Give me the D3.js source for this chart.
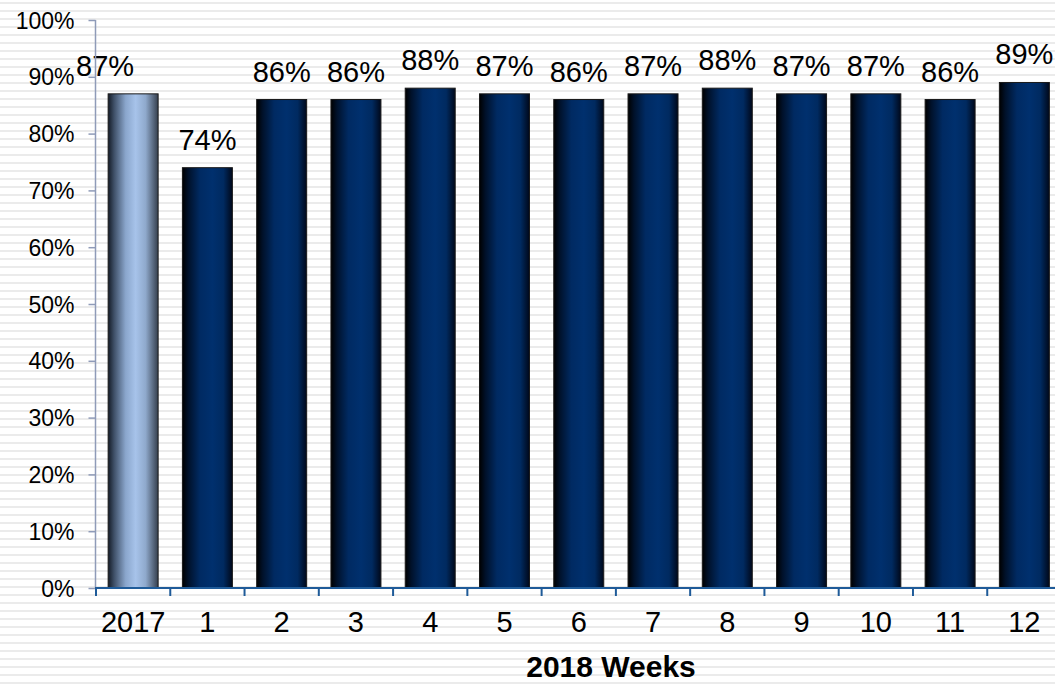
<!DOCTYPE html>
<html>
<head>
<meta charset="utf-8">
<script src="https://cdn.jsdelivr.net/npm/d3@7"></script>
<style>
  html, body { margin: 0; padding: 0; background: #fff; }
  svg { display: block; }
  text { font-family: Arial, "Liberation Sans", sans-serif; fill: #000; }
</style>
</head>
<body>
<svg id="chart" width="1055" height="684"></svg>
<script>
// Weekly rates: the 2017 baseline followed by the 2018 weeks
const categories = ["2017", "1", "2", "3", "4", "5", "6", "7", "8", "9", "10", "11", "12"];
const values = [0.87, 0.74, 0.86, 0.86, 0.88, 0.87, 0.86, 0.87, 0.88, 0.87, 0.87, 0.86, 0.89];
const yTicks = [0, 0.1, 0.2, 0.3, 0.4, 0.5, 0.6, 0.7, 0.8, 0.9, 1.0];
const axisTitle = "2018 Weeks";

const W = 1055, H = 684;
const plotLeft = 96, plotTop = 20, plotBottom = 588;
const step = 74.27;

const svg = d3.select("#chart");
const defs = svg.append("defs");

// Light horizontal pinstripe background
const pat = defs.append("pattern")
  .attr("id", "stripes").attr("patternUnits", "userSpaceOnUse")
  .attr("width", 8).attr("height", 8);
pat.append("rect").attr("width", 8).attr("height", 8).attr("fill", "#ffffff");
pat.append("rect").attr("y", 2).attr("width", 8).attr("height", 2).attr("fill", "#ebebeb");
svg.append("rect").attr("width", W).attr("height", H).attr("fill", "url(#stripes)");

// Cylinder-like shading for the bars
function grad(id, stops) {
  const g = defs.append("linearGradient").attr("id", id)
    .attr("x1", "0%").attr("x2", "100%").attr("y1", "0%").attr("y2", "0%");
  stops.forEach(([o, c]) => g.append("stop").attr("offset", o).attr("stop-color", c));
}
grad("navy", [["0%", "#000000"], ["12%", "#00112a"], ["35%", "#002a62"], ["60%", "#00306e"], ["82%", "#002a60"], ["100%", "#00081a"]]);
grad("pale", [["0%", "#141b26"], ["12%", "#3f5068"], ["35%", "#8aa6cc"], ["55%", "#a7c3ea"], ["75%", "#8fa9cc"], ["100%", "#353f4e"]]);

const x = d3.scaleBand()
  .domain(categories)
  .range([plotLeft, plotLeft + step * categories.length])
  .paddingInner(0.327)
  .paddingOuter(0.1635);

const y = d3.scaleLinear().domain([0, 1]).range([plotBottom, plotTop]);

// Bars
svg.append("g").selectAll("rect")
  .data(values)
  .join("rect")
  .attr("x", (d, i) => x(categories[i]))
  .attr("y", d => y(d))
  .attr("width", x.bandwidth())
  .attr("height", d => y(0) - y(d))
  .attr("fill", (d, i) => i === 0 ? "url(#pale)" : "url(#navy)")
  .attr("stroke", "#1a1a1a")
  .attr("stroke-width", 1);

// Value labels above the bars (the first one is nudged left)
svg.append("g").selectAll("text")
  .data(values)
  .join("text")
  .attr("x", (d, i) => x(categories[i]) + x.bandwidth() / 2 - (i === 0 ? 28 : 0))
  .attr("y", d => y(d) - 18)
  .attr("text-anchor", "middle")
  .attr("font-size", 29)
  .text(d => d3.format(".0%")(d));

// Y axis
const yAxis = svg.append("g").attr("transform", `translate(${plotLeft - 0.5},0)`)
  .call(d3.axisLeft(y).tickValues(yTicks).tickFormat(d3.format(".0%")).tickSize(7).tickPadding(14));
yAxis.select(".domain").attr("stroke", "#8f9bb8").attr("stroke-width", 1.5).attr("d", `M0,${plotTop}V${plotBottom}`);
yAxis.selectAll(".tick line").attr("stroke", "#8f9bb8").attr("stroke-width", 1.5);
yAxis.selectAll(".tick text").attr("font-size", 23).attr("dy", "0.35em")
  .style("font-family", "Arial, 'Liberation Sans', sans-serif").attr("fill", "#000");

// X axis with ticks on category boundaries
const xg = svg.append("g");
xg.append("line")
  .attr("x1", plotLeft - 1).attr("x2", W).attr("y1", plotBottom).attr("y2", plotBottom)
  .attr("stroke", "#1f5b99").attr("stroke-width", 2);
const bounds = d3.range(categories.length + 1).map(i => plotLeft + i * step);
xg.selectAll("line.tk").data(bounds).join("line").attr("class", "tk")
  .attr("x1", d => d).attr("x2", d => d)
  .attr("y1", plotBottom).attr("y2", plotBottom + 8)
  .attr("stroke", "#1f5b99").attr("stroke-width", 2);
xg.selectAll("text").data(categories).join("text")
  .attr("x", d => x(d) + x.bandwidth() / 2)
  .attr("y", 632)
  .attr("text-anchor", "middle")
  .attr("font-size", 29)
  .text(d => d);

// Axis title
svg.append("text")
  .attr("x", 611).attr("y", 677)
  .attr("text-anchor", "middle")
  .attr("font-size", 30).attr("font-weight", "bold")
  .text(axisTitle);
</script>
</body>
</html>
